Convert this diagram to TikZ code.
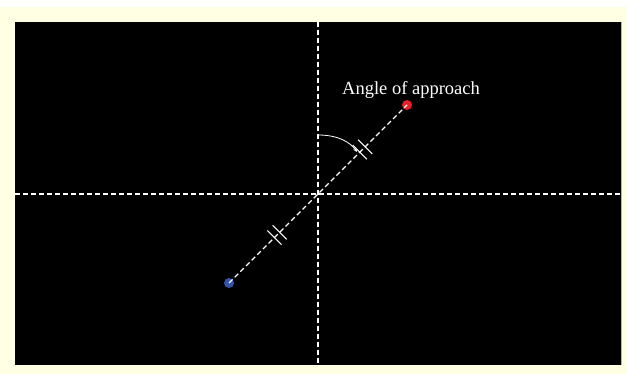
\documentclass[tikz,border=0pt]{standalone}
\usepackage{fontspec}
\setmainfont{Liberation Serif}
\usetikzlibrary{calc,arrows.meta}
\definecolor{cream}{HTML}{FFFFE3}
\definecolor{dotred}{HTML}{E8202A}
\definecolor{dotblue}{HTML}{3352A8}
\tikzset{
  axisline/.style={white,line width=1.1pt,dash pattern=on 5pt off 3pt},
  pathline/.style={white,line width=1.1pt,dash pattern=on 5pt off 3pt},
  tickline/.style={white,line width=1.1pt},
  enddot/.style={circle,inner sep=0pt,minimum size=10pt},
  labeltext/.style={white,font=\fontsize{18.5}{20}\selectfont,inner sep=0pt,anchor=base},
}
\begin{document}
\begin{tikzpicture}[x=1pt,y=-1pt]
\useasboundingbox (0,0) rectangle (627,374);
\fill[white] (0,0) rectangle (627,7);
\fill[cream] (0,7) rectangle (627,374);
\fill[black] (15,22) rectangle (621,365);
\draw[gray!60,line width=0.8pt] (621.4,22) -- (621.4,365);
% axes
\coordinate (vtop) at (318,22);
\coordinate (vbot) at (318,365);
\coordinate (hleft) at (15,194);
\coordinate (hright) at (621,194);
\draw[axisline] (vtop) -- (vbot);
\draw[axisline] (hleft) -- (hright);
% dots
\node[enddot,fill=dotred] (red) at (407,105) {};
\node[enddot,fill=dotblue] (blue) at (229,283) {};
\coordinate (o) at (318,194);
\draw[pathline] (blue.center) -- (red.center);
% tick marks
\foreach \t in {0.47,0.53}{
  \coordinate (m) at ($(o)!\t!(red.center)$);
  \draw[tickline] ($(m)!10pt!90:(red.center)$) -- ($(m)!10pt!-90:(red.center)$);
}
\foreach \t in {0.43,0.49}{
  \coordinate (m) at ($(o)!\t!(blue.center)$);
  \draw[tickline] ($(m)!10pt!90:(blue.center)$) -- ($(m)!10pt!-90:(blue.center)$);
}
% angle arc
\coordinate (arcs) at (318,135);
\coordinate (arce) at (357,152);
\draw[white,line width=0.8pt,-{Stealth[length=4pt,width=3.5pt]}] (arcs) .. controls (338,135) and (350,142) .. (arce);
% label
\node[labeltext] (lbl) at (411,95) {Angle of approach};
\end{tikzpicture}
\end{document}
